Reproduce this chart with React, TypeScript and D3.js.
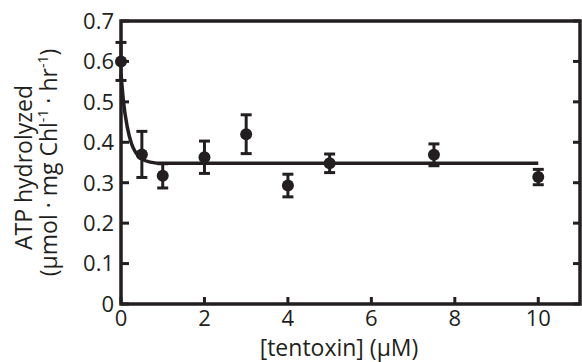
import { useEffect, useRef } from "react"
import * as d3 from "d3"

// measured points
const conc = [0, 0.5, 1, 2, 3, 4, 5, 7.5, 10]
const atp = [0.6, 0.37, 0.317, 0.363, 0.42, 0.293, 0.348, 0.369, 0.314]
const err = [0.047, 0.057, 0.03, 0.04, 0.048, 0.028, 0.023, 0.027, 0.019]

// fitted curve
const fitX = [0, 0.06, 0.15, 0.25, 0.35, 0.5, 0.7, 1, 10]
const fitY = [0.57, 0.5, 0.438, 0.397, 0.375, 0.359, 0.351, 0.348, 0.348]

const xTicks = [0, 2, 4, 6, 8, 10]
const yTicks = [0, 0.1, 0.2, 0.3, 0.4, 0.5, 0.6, 0.7]

const INK = "#231f20"
const FONT = "'Open Sans', sans-serif"

export default function App() {
  const ref = useRef<SVGSVGElement | null>(null)

  useEffect(() => {
    const svg = d3.select(ref.current)
    svg.selectAll("*").remove()

    const width = 582
    const height = 362
    const margin = { top: 21, right: 2, bottom: 58, left: 121 }

    const x = d3.scaleLinear()
      .domain([0, 11])
      .range([margin.left, width - margin.right])

    const y = d3.scaleLinear()
      .domain([0, 0.7])
      .range([height - margin.bottom, margin.top])

    svg.attr("width", width).attr("height", height)

    const x0 = x.range()[0], x1 = x.range()[1]
    const y0 = y.range()[0], y1 = y.range()[1]

    // ticks (inward)
    const tk = svg.append("g").attr("stroke", INK).attr("stroke-width", 3)
    yTicks.forEach(t => {
      tk.append("line").attr("x1", x0).attr("x2", x0 + 8).attr("y1", y(t)).attr("y2", y(t))
      tk.append("line").attr("x1", x1).attr("x2", x1 - 7).attr("y1", y(t)).attr("y2", y(t))
    })
    xTicks.forEach(t => {
      tk.append("line").attr("x1", x(t)).attr("x2", x(t)).attr("y1", y0).attr("y2", y0 - 7)
    })

    // box
    svg.append("rect")
      .attr("x", x0).attr("y", y1)
      .attr("width", x1 - x0).attr("height", y0 - y1)
      .attr("fill", "none")
      .attr("stroke", INK)
      .attr("stroke-width", 3.5)

    // tick labels
    svg.append("g").selectAll("text")
      .data(yTicks)
      .enter()
      .append("text")
      .attr("x", x0 - 7)
      .attr("y", d => y(d))
      .attr("dy", "0.36em")
      .attr("text-anchor", "end")
      .attr("font-family", FONT)
      .attr("font-size", 22)
      .attr("fill", INK)
      .text(d => d === 0 ? "0" : d.toFixed(1))

    svg.append("g").selectAll("text")
      .data(xTicks)
      .enter()
      .append("text")
      .attr("x", d => x(d))
      .attr("y", y0 + 22)
      .attr("text-anchor", "middle")
      .attr("font-family", FONT)
      .attr("font-size", 22)
      .attr("fill", INK)
      .text(d => String(d))

    // axis titles
    svg.append("text")
      .attr("x", 339)
      .attr("y", 356)
      .attr("text-anchor", "middle")
      .attr("font-family", FONT)
      .attr("font-size", 23)
      .attr("fill", INK)
      .text("[tentoxin] (µM)")

    const cy = (y0 + y1) / 2
    const yl = svg.append("g")
      .attr("transform", `translate(0,${cy}) rotate(-90)`)
      .attr("font-family", FONT)
      .attr("font-size", 23)
      .attr("fill", INK)
      .attr("text-anchor", "middle")

    yl.append("text").attr("x", -5).attr("y", 32).text("ATP hydrolyzed")

    const l2 = yl.append("text").attr("x", 0).attr("y", 57)
    l2.append("tspan").text("(µmol · mg Chl")
    l2.append("tspan").attr("font-size", 14).attr("dy", -9).text("-1")
    l2.append("tspan").attr("dy", 9).text(" · hr")
    l2.append("tspan").attr("font-size", 14).attr("dy", -9).text("-1")
    l2.append("tspan").attr("dy", 9).text(")")

    // fit line
    const line = d3.line<number>()
      .x((d, i) => x(fitX[i]))
      .y(d => y(d))
      .curve(d3.curveMonotoneX)

    svg.append("path")
      .datum(fitY)
      .attr("d", line)
      .attr("fill", "none")
      .attr("stroke", INK)
      .attr("stroke-width", 3.5)

    // error bars
    const eb = svg.append("g").attr("stroke", INK).attr("stroke-width", 3)
    conc.forEach((c, i) => {
      const hi = y(atp[i] + err[i]), lo = y(atp[i] - err[i])
      eb.append("line").attr("x1", x(c)).attr("x2", x(c)).attr("y1", hi).attr("y2", lo)
      eb.append("line").attr("x1", x(c) - 5.5).attr("x2", x(c) + 5.5).attr("y1", hi).attr("y2", hi)
      eb.append("line").attr("x1", x(c) - 5.5).attr("x2", x(c) + 5.5).attr("y1", lo).attr("y2", lo)
    })

    // points
    svg.append("g").selectAll("circle")
      .data(atp)
      .enter()
      .append("circle")
      .attr("cx", (d, i) => x(conc[i]))
      .attr("cy", d => y(d))
      .attr("r", 6)
      .attr("fill", INK)
  }, [])

  return <svg ref={ref} style={{ position: "absolute", left: 0, top: 0 }} />
}
